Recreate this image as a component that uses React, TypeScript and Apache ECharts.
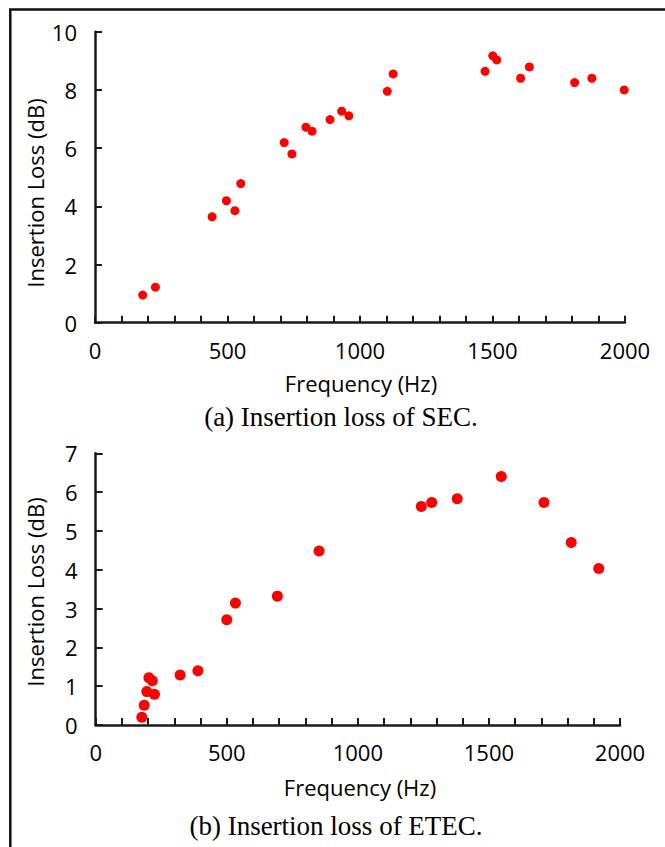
import React, { useEffect, useRef } from "react";
import * as echarts from "echarts";

// (a) SEC
const secFreq = [180, 228, 442, 496, 528, 550, 714, 743, 796, 819, 887, 931, 958, 1103, 1125, 1472, 1501, 1516, 1606, 1639, 1810, 1875, 1997];
const secLoss = [0.95, 1.22, 3.64, 4.19, 3.85, 4.78, 6.19, 5.8, 6.72, 6.58, 6.98, 7.27, 7.11, 7.95, 8.55, 8.64, 9.17, 9.03, 8.4, 8.79, 8.25, 8.4, 8.0];

// (b) ETEC
const etecFreq = [176, 185, 195, 203, 216, 224, 322, 390, 500, 533, 693, 852, 1242, 1282, 1379, 1547, 1710, 1814, 1919];
const etecLoss = [0.2, 0.51, 0.86, 1.22, 1.14, 0.79, 1.29, 1.4, 2.71, 3.14, 3.32, 4.48, 5.63, 5.73, 5.83, 6.4, 5.73, 4.7, 4.03];

const xMin = 0;
const xMax = 2000;
const xTickStep = 100;
const xLabelStep = 500;
const secYMax = 10;
const secYInterval = 2;
const etecYMax = 7;
const etecYInterval = 1;

const xName = "Frequency (Hz)";
const yName = "Insertion Loss (dB)";
const captionA = "(a) Insertion loss of SEC.";
const captionB = "(b) Insertion loss of ETEC.";

const AXIS_COLOR = "#1a1a1a";
const SANS = "'Open Sans', sans-serif";
const SERIF = "'Liberation Serif', 'Times New Roman', serif";

export default function App() {
  const ref = useRef<HTMLDivElement>(null);
  useEffect(() => {
    if (!ref.current) return;
    const chart = echarts.init(ref.current, undefined, { renderer: "svg" });
    const axisLine = { show: true, lineStyle: { color: AXIS_COLOR, width: 2.5 } };
    const tick = { show: true, inside: true, length: 7, lineStyle: { color: AXIS_COLOR, width: 2 } };
    const xAxisCommon = (gridIndex: number) => ({
      type: "value" as const,
      gridIndex,
      min: xMin,
      max: xMax,
      interval: xTickStep,
      axisLine,
      axisTick: tick,
      splitLine: { show: false },
      axisLabel: {
        margin: 16,
        color: "#000",
        fontFamily: SANS,
        fontSize: 22,
        showMinLabel: true,
        showMaxLabel: true,
        hideOverlap: false,
        formatter: (v: number) => (v % xLabelStep === 0 ? String(v) : ""),
      },
    });
    const yAxisCommon = (gridIndex: number, max: number, interval: number) => ({
      type: "value" as const,
      gridIndex,
      min: 0,
      max,
      interval,
      axisLine,
      axisTick: tick,
      splitLine: { show: false },
      axisLabel: { margin: 18, color: "#000", fontFamily: SANS, fontSize: 22, formatter: (v: number) => String(v) },
    });
    const textStyle = (font: string, size: number) => ({
      fill: "#000",
      font: `${size}px ${font}`,
      textAlign: "center",
      textVerticalAlign: "middle",
    });
    chart.setOption({
      animation: false,
      backgroundColor: "#fff",
      grid: [
        { left: 95, top: 31.7, width: 530, height: 291 },
        { left: 95.7, top: 453.3, width: 524.3, height: 271.7 },
      ],
      xAxis: [xAxisCommon(0), xAxisCommon(1)],
      yAxis: [yAxisCommon(0, secYMax, secYInterval), yAxisCommon(1, etecYMax, etecYInterval)],
      series: [
        {
          type: "scatter",
          xAxisIndex: 0,
          yAxisIndex: 0,
          symbolSize: 9,
          itemStyle: { color: "#ff0000", opacity: 1 },
          data: secFreq.map((f, i) => [f, secLoss[i]]),
        },
        {
          type: "scatter",
          xAxisIndex: 1,
          yAxisIndex: 1,
          symbolSize: 11,
          itemStyle: { color: "#ff0000", opacity: 1 },
          data: etecFreq.map((f, i) => [f, etecLoss[i]]),
        },
      ],
      graphic: [
        { type: "line", shape: { x1: 10.3, y1: 9.5, x2: 10.3, y2: 847 }, style: { stroke: "#111", lineWidth: 2.5 } },
        { type: "line", shape: { x1: 9, y1: 9.5, x2: 665, y2: 9.5 }, style: { stroke: "#111", lineWidth: 2.5 } },
        { type: "text", x: 35, y: 193, rotation: Math.PI / 2, style: { ...textStyle(SANS, 22), text: yName } },
        { type: "text", x: 35, y: 592, rotation: Math.PI / 2, style: { ...textStyle(SANS, 22), text: yName } },
        { type: "text", x: 361, y: 383, style: { ...textStyle(SANS, 22), text: xName } },
        { type: "text", x: 360, y: 787, style: { ...textStyle(SANS, 22), text: xName } },
        { type: "text", x: 341, y: 417, style: { ...textStyle(SERIF, 27), text: captionA } },
        { type: "text", x: 336, y: 826, style: { ...textStyle(SERIF, 27), text: captionB } },
      ],
    });
    return () => chart.dispose();
  }, []);
  return <div ref={ref} style={{ position: "absolute", left: 0, top: 0, width: 665, height: 847 }} />;
}
